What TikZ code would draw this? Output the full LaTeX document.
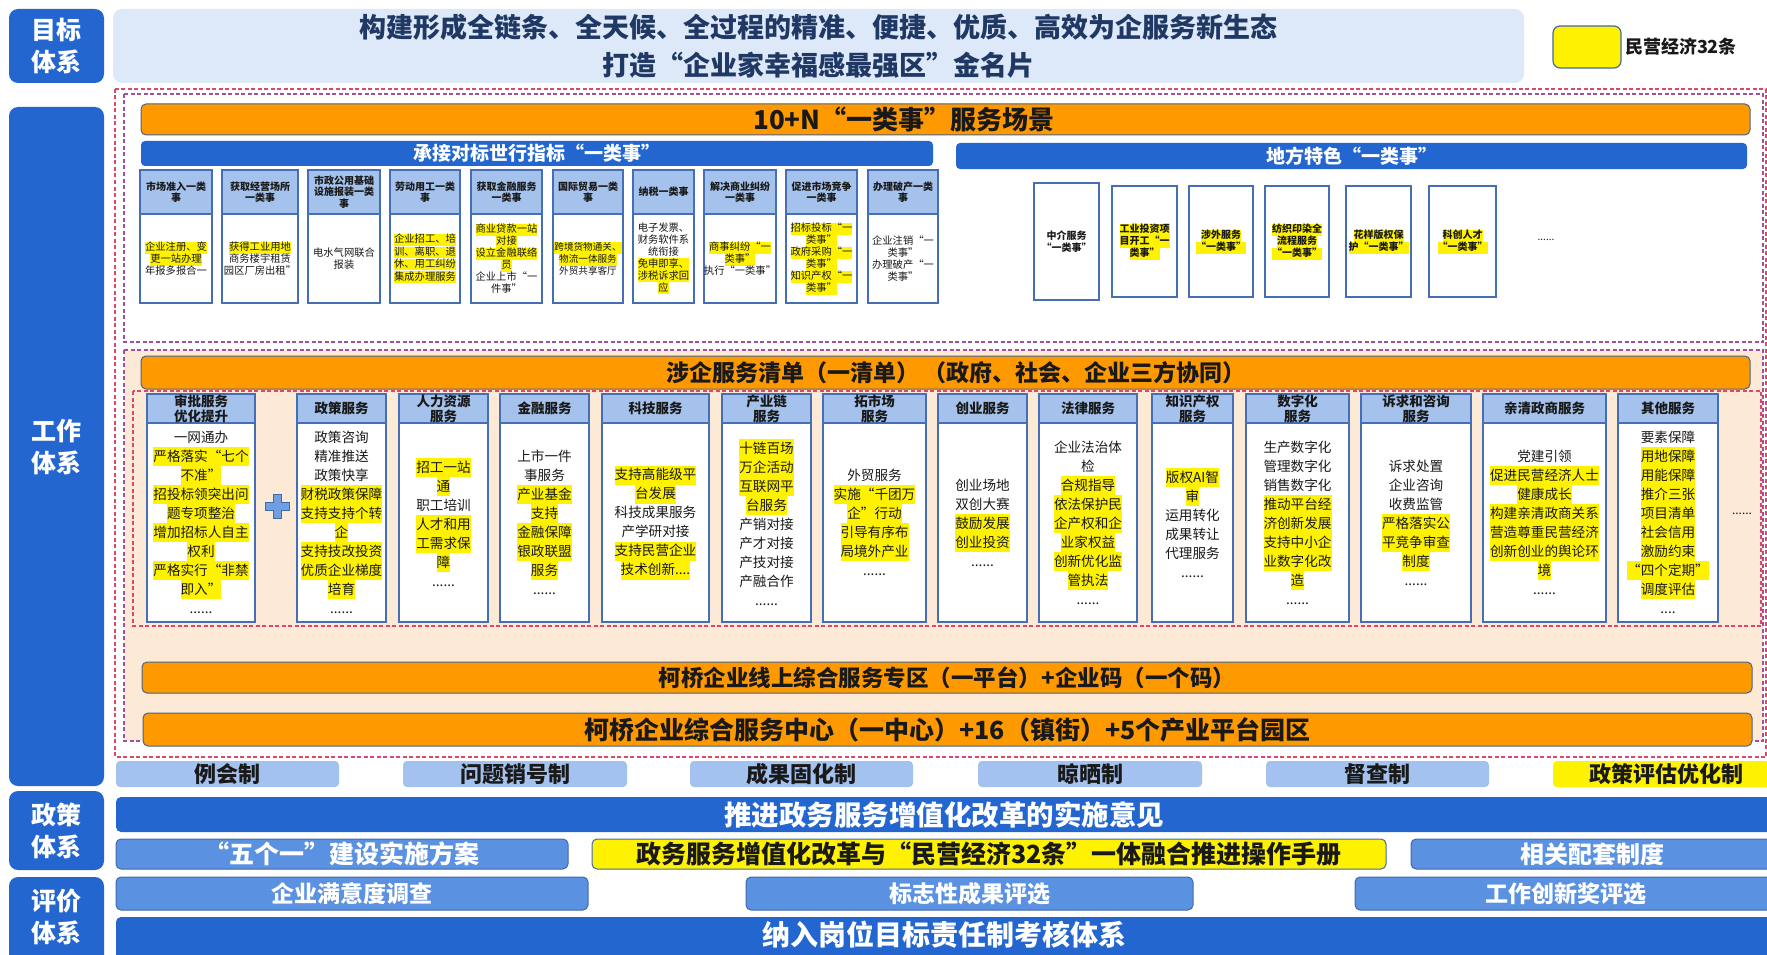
\documentclass[tikz,border=0pt]{standalone}
\usepackage{fontspec}
\setmainfont{Noto Sans CJK SC}
\definecolor{dblue}{RGB}{35,102,208}
\definecolor{ttlfill}{RGB}{221,233,248}
\definecolor{ttltext}{RGB}{31,56,100}
\definecolor{orng}{RGB}{255,153,0}
\definecolor{obord}{RGB}{72,100,140}
\definecolor{hdrfill}{RGB}{164,194,236}
\definecolor{hdrbord}{RGB}{70,110,180}
\definecolor{peach}{RGB}{252,234,214}
\definecolor{mechfill}{RGB}{164,194,240}
\definecolor{lblue}{RGB}{91,145,225}
\definecolor{lbord}{RGB}{65,105,170}
\definecolor{rdash}{RGB}{222,70,110}
\definecolor{pdash}{RGB}{160,80,160}
\definecolor{ytext}{RGB}{25,25,25}
\definecolor{plusfill}{RGB}{110,160,225}
\newcommand\R[7]{\node[#1,minimum width={(#4)-(#2)},minimum height={(#5)-(#3)}] (#6) at ({((#2)+(#4))/2},{((#3)+(#5))/2}) {#7};}
\newcommand\yl[1]{{\fboxsep=0pt\colorbox{yellow}{\rule[-0.25\baselineskip]{0pt}{\baselineskip}#1}}}
\begin{document}
\begin{tikzpicture}[x=1pt,y=-1pt,
  every node/.style={inner sep=0pt,outer sep=0pt},
  lab/.style={fill=dblue,rounded corners=9pt},
  labt/.style={text=white,align=center,font=\fontsize{25}{32}\selectfont\bfseries},
  ttl/.style={fill=ttlfill,rounded corners=9pt,text=ttltext,align=center,font=\fontsize{27}{38}\selectfont\bfseries},
  leg/.style={fill=yellow,draw=lbord,line width=1.2pt,rounded corners=7pt},
  obar/.style={fill=orng,draw=obord,line width=1pt,rounded corners=5pt,text=ytext,font=\bfseries},
  bbar/.style={fill=dblue,rounded corners=4pt,text=white,font=\fontsize{19}{22}\selectfont\bfseries},
  thd/.style={fill=hdrfill,draw=hdrbord,line width=1.2pt,align=center,text=ytext,font=\fontsize{10}{11.5}\selectfont\bfseries},
  tbd/.style={fill=white,draw=hdrbord,line width=1.2pt,align=center,text=ytext,font=\fontsize{10.3}{12}\selectfont},
  rbx/.style={fill=white,draw=hdrbord,line width=1.6pt,align=center,text=ytext,font=\fontsize{10}{12}\selectfont\bfseries},
  chd/.style={fill=hdrfill,draw=hdrbord,line width=1.4pt,align=center,text=ytext,font=\fontsize{13.5}{15}\selectfont\bfseries},
  cbd/.style={fill=white,draw=hdrbord,line width=1.4pt,align=center,text=ytext,font=\fontsize{13.6}{19}\selectfont},
  mech/.style={fill=mechfill,rounded corners=4pt,text=ytext,font=\fontsize{22}{24}\selectfont\bfseries},
  dbar/.style={fill=dblue,rounded corners=5pt,text=white,font=\fontsize{27.5}{30}\selectfont\bfseries},
  lrow/.style={fill=lblue,draw=lbord,line width=1pt,rounded corners=5pt,text=white,font=\fontsize{25}{27}\selectfont\bfseries},
  yrow/.style={fill=yellow,draw=lbord,line width=1pt,rounded corners=5pt,text=ytext,font=\fontsize{25}{27}\selectfont\bfseries},
  otext/.style={text=ytext,font=\bfseries},
  rd/.style={draw=rdash,line width=1.3pt,dash pattern=on 4pt off 2.5pt},
  pd/.style={draw=pdash,line width=1.3pt,dash pattern=on 4pt off 2.5pt}
]
\useasboundingbox (0,0) rectangle (1767,955);
\clip (0,0) rectangle (1767,955);
\fill[white] (0,0) rectangle (1767,955);

% ---- left labels
\R{lab}{9}{9}{104}{83}{lg}{}
\node[labt] (lgt) at (lg.center) {目标\\体系};
\R{lab}{9}{107}{104}{786}{lw}{}
\node[labt] (lwt) at (56.5,447) {工作\\体系};
\R{lab}{9}{791}{104}{870}{lp}{}
\node[labt] (lpt) at (lp.center) {政策\\体系};
\R{lab}{9}{877}{104}{975}{le}{}
\node[labt] (let) at (56.5,917) {评价\\体系};

% ---- title and legend
\R{ttl}{113}{9}{1524}{83}{title}{构建形成全链条、全天候、全过程的精准、便捷、优质、高效为企服务新生态\\打造“企业家幸福感最强区”金名片}
\R{leg}{1553}{26}{1621}{68}{legbox}{}
\node[anchor=west,text=ytext,font=\fontsize{18}{20}\selectfont\bfseries] (legt) at (1625,47) {民营经济32条};

% ---- dashed frames and peach area
\draw[rd] (115,89) rectangle (1766,757);
\draw[pd] (124,94) rectangle (1763,342);
\draw[pd,fill=peach] (124,350) rectangle (1763,741);
\draw[rd] (133,391) rectangle (1761,626);

% ---- top: 10+N
\R{obar}{141}{104}{1750}{135}{o1}{}
\node[otext,font=\fontsize{26}{28}\selectfont\bfseries] (o1t) at (904,119.5) {10+N“一类事”服务场景};
\R{bbar}{141}{141}{933}{166}{b1}{承接对标世行指标“一类事”}
\R{bbar}{956}{143}{1747}{169}{b2}{地方特色“一类事”}

\R{tbd}{140}{214}{212}{303}{t1}{\yl{企业注册、变}\\\yl{更一站办理}\\年报多报合一}
\R{thd}{140}{170}{212}{214}{t1h}{市场准入一类\\事}
\R{tbd}{222}{214}{298}{303}{t2}{\yl{获得工业用地}\\商务楼宇租赁\\园区厂房出租”}
\R{thd}{222}{170}{298}{214}{t2h}{获取经营场所\\一类事}
\R{tbd}{308}{214}{380}{303}{t3}{电水气网联合\\报装}
\R{thd}{308}{170}{380}{214}{t3h}{市政公用基础\\设施报装一类\\事}
\R{tbd,font=\fontsize{10.3}{11}\selectfont}{390}{214}{460}{303}{t4}{\yl{企业招工、培}\\\yl{训、离职、退}\\\yl{休、用工纠纷}\\\yl{集成办理服务}}
\R{thd}{390}{170}{460}{214}{t4h}{劳动用工一类\\事}
\R{tbd}{471}{214}{542}{303}{t5}{\yl{商业贷款一站}\\\yl{对接}\\\yl{设立金融联络}\\\yl{员}\\企业上市“一\\件事”}
\R{thd}{471}{170}{542}{214}{t5h}{获取金融服务\\一类事}
\R{tbd,font=\fontsize{9.6}{12}\selectfont}{553}{214}{623}{303}{t6}{\yl{跨境货物通关、}\\\yl{物流一体服务}\\外贸共享客厅}
\R{thd}{553}{170}{623}{214}{t6h}{国际贸易一类\\事}
\R{tbd}{633}{214}{694}{303}{t7}{电子发票、\\财务软件系\\统衔接\\\yl{免申即享、}\\\yl{涉税诉求回}\\\yl{应}}
\R{thd}{633}{170}{694}{214}{t7h}{纳税一类事}
\R{tbd}{704}{214}{776}{303}{t8}{\yl{商事纠纷“一}\\\yl{类事”}\\执行“一类事”}
\R{thd}{704}{170}{776}{214}{t8h}{解决商业纠纷\\一类事}
\R{tbd}{786}{214}{857}{303}{t9}{\yl{招标投标“一}\\\yl{类事”}\\\yl{政府采购“一}\\\yl{类事”}\\\yl{知识产权“一}\\\yl{类事”}}
\R{thd}{786}{170}{857}{214}{t9h}{促进市场竞争\\一类事}
\R{tbd}{868}{214}{938}{303}{t10}{企业注销“一\\类事”\\办理破产“一\\类事”}
\R{thd}{868}{170}{938}{214}{t10h}{办理破产一类\\事}

\R{rbx}{1034}{183}{1099}{300}{r1}{中介服务\\“一类事”}
\R{rbx}{1112}{186}{1177}{297}{r2}{\yl{工业投资项}\\\yl{目开工“一}\\\yl{类事”}}
\R{rbx}{1189}{186}{1253}{297}{r3}{\yl{涉外服务}\\\yl{“一类事”}}
\R{rbx}{1265}{186}{1329}{297}{r4}{\yl{纺织印染全}\\\yl{流程服务}\\\yl{“一类事”}}
\R{rbx}{1346}{186}{1411}{297}{r5}{\yl{花样版权保}\\\yl{护“一类事”}}
\R{rbx}{1429}{186}{1496}{297}{r6}{\yl{科创人才}\\\yl{“一类事”}}
\node[text=ytext,font=\fontsize{10}{12}\selectfont] (rdots) at (1546,240) {......};

% ---- middle: service list
\R{obar}{141}{356}{1750}{389}{o2}{}
\node[otext,font=\fontsize{23}{26}\selectfont\bfseries] (o2t) at (956,372.5) {涉企服务清单（一清单）\hspace{4pt}（政府、社会、企业三方协同）};

\R{cbd}{147}{423}{255}{622}{c1}{一网通办\\\yl{严格落实“七个}\\\yl{不准”}\\\yl{招投标领突出问}\\\yl{题专项整治}\\\yl{增加招标人自主}\\\yl{权利}\\\yl{严格实行“非禁}\\\yl{即入”}\\......}
\R{chd}{147}{394}{255}{423}{h1}{审批服务\\优化提升}
\R{cbd}{297}{423}{386}{622}{c2}{政策咨询\\精准推送\\政策快享\\\yl{财税政策保障}\\\yl{支持支持个转}\\\yl{企}\\\yl{支持技改投资}\\\yl{优质企业梯度}\\\yl{培育}\\......}
\R{chd}{297}{394}{386}{423}{h2}{政策服务}
\R{cbd}{399}{423}{488}{622}{c3}{\yl{招工一站}\\\yl{通}\\职工培训\\\yl{人才和用}\\\yl{工需求保}\\\yl{障}\\......}
\R{chd}{399}{394}{488}{423}{h3}{人力资源\\服务}
\R{cbd}{500}{423}{589}{622}{c4}{上市一件\\事服务\\\yl{产业基金}\\\yl{支持}\\\yl{金融保障}\\\yl{银政联盟}\\\yl{服务}\\......}
\R{chd}{500}{394}{589}{423}{h4}{金融服务}
\R{cbd}{602}{423}{709}{622}{c5}{\yl{支持高能级平}\\\yl{台发展}\\科技成果服务\\产学研对接\\\yl{支持民营企业}\\\yl{技术创新....}}
\R{chd}{602}{394}{709}{423}{h5}{科技服务}
\R{cbd}{722}{423}{811}{622}{c6}{\yl{十链百场}\\\yl{万企活动}\\\yl{互联网平}\\\yl{台服务}\\产销对接\\产才对接\\产技对接\\产融合作\\......}
\R{chd}{722}{394}{811}{423}{h6}{产业链\\服务}
\R{cbd}{823}{423}{926}{622}{c7}{外贸服务\\\yl{实施“千团万}\\\yl{企”行动}\\\yl{引导有序布}\\\yl{局境外产业}\\......}
\R{chd}{823}{394}{926}{423}{h7}{拓市场\\服务}
\R{cbd}{938}{423}{1027}{622}{c8}{创业场地\\双创大赛\\\yl{鼓励发展}\\\yl{创业投资}\\......}
\R{chd}{938}{394}{1027}{423}{h8}{创业服务}
\R{cbd}{1039}{423}{1137}{622}{c9}{企业法治体\\检\\\yl{合规指导}\\\yl{依法保护民}\\\yl{企产权和企}\\\yl{业家权益}\\\yl{创新优化监}\\\yl{管执法}\\......}
\R{chd}{1039}{394}{1137}{423}{h9}{法律服务}
\R{cbd}{1152}{423}{1233}{622}{c10}{\yl{版权AI智}\\\yl{审}\\运用转化\\成果转让\\代理服务\\......}
\R{chd}{1152}{394}{1233}{423}{h10}{知识产权\\服务}
\R{cbd}{1246}{423}{1349}{622}{c11}{生产数字化\\管理数字化\\销售数字化\\\yl{推动平台经}\\\yl{济创新发展}\\\yl{支持中小企}\\\yl{业数字化改}\\\yl{造}\\......}
\R{chd}{1246}{394}{1349}{423}{h11}{数字化\\服务}
\R{cbd}{1361}{423}{1471}{622}{c12}{诉求处置\\企业咨询\\收费监管\\\yl{严格落实公}\\\yl{平竞争审查}\\\yl{制度}\\......}
\R{chd}{1361}{394}{1471}{423}{h12}{诉求和咨询\\服务}
\R{cbd}{1483}{423}{1606}{622}{c13}{党建引领\\\yl{促进民营经济人士}\\\yl{健康成长}\\\yl{构建亲清政商关系}\\\yl{营造尊重民营经济}\\\yl{创新创业的舆论环}\\\yl{境}\\......}
\R{chd}{1483}{394}{1606}{423}{h13}{亲清政商服务}
\R{cbd}{1618}{423}{1718}{622}{c14}{要素保障\\\yl{用地保障}\\\yl{用能保障}\\\yl{推介三张}\\\yl{项目清单}\\\yl{社会信用}\\\yl{激励约束}\\\yl{“四个定期”}\\\yl{调度评估}\\....}
\R{chd}{1618}{394}{1718}{423}{h14}{其他服务}
\node[text=ytext,font=\fontsize{12}{14}\selectfont] (cdots) at (1742,514) {......};

\filldraw[fill=plusfill,draw=lbord,line width=1pt] (273,494) -- (281,494) -- (281,502) -- (289,502) -- (289,510) -- (281,510) -- (281,518) -- (273,518) -- (273,510) -- (265,510) -- (265,502) -- (273,502) -- cycle;

\R{obar,font=\fontsize{22.5}{25}\selectfont\bfseries}{142}{662}{1752}{693}{o3}{柯桥企业线上综合服务专区（一平台）+企业码（一个码）}
\R{obar,font=\fontsize{25}{28}\selectfont\bfseries}{143}{713}{1752}{746}{o4}{柯桥企业综合服务中心（一中心）+16（镇街）+5个产业平台园区}

% ---- mechanisms
\R{mech}{116}{761}{339}{787}{m1}{例会制}
\R{mech}{403}{761}{627}{787}{m2}{问题销号制}
\R{mech}{690}{761}{913}{787}{m3}{成果固化制}
\R{mech}{978}{761}{1202}{787}{m4}{晾晒制}
\R{mech}{1266}{761}{1489}{787}{m5}{督查制}
\R{mech,fill=yellow}{1553}{761}{1779}{787}{m6}{政策评估优化制}

% ---- policy
\R{dbar}{116}{797}{1772}{832}{p1}{推进政务服务增值化改革的实施意见}
\R{lrow}{116}{839}{568}{869}{p2}{“五个一”建设实施方案}
\R{yrow}{592}{839}{1386}{869}{p3}{政务服务增值化改革与“民营经济32条”一体融合推进操作手册}
\R{lrow,font=\fontsize{24}{26}\selectfont\bfseries}{1411}{839}{1773}{869}{p4}{相关配套制度}

% ---- evaluation
\R{lrow,font=\fontsize{23}{25}\selectfont\bfseries}{116}{877}{588}{910}{e1}{企业满意度调查}
\R{lrow,font=\fontsize{23}{25}\selectfont\bfseries}{746}{877}{1193}{910}{e2}{标志性成果评选}
\R{lrow,font=\fontsize{23}{25}\selectfont\bfseries}{1355}{877}{1777}{910}{e3}{工作创新奖评选}
\R{dbar}{116}{917}{1772}{975}{e4}{}
\node[text=white,font=\fontsize{28}{30}\selectfont\bfseries] (e4t) at (944,935) {纳入岗位目标责任制考核体系};
\end{tikzpicture}
\end{document}
